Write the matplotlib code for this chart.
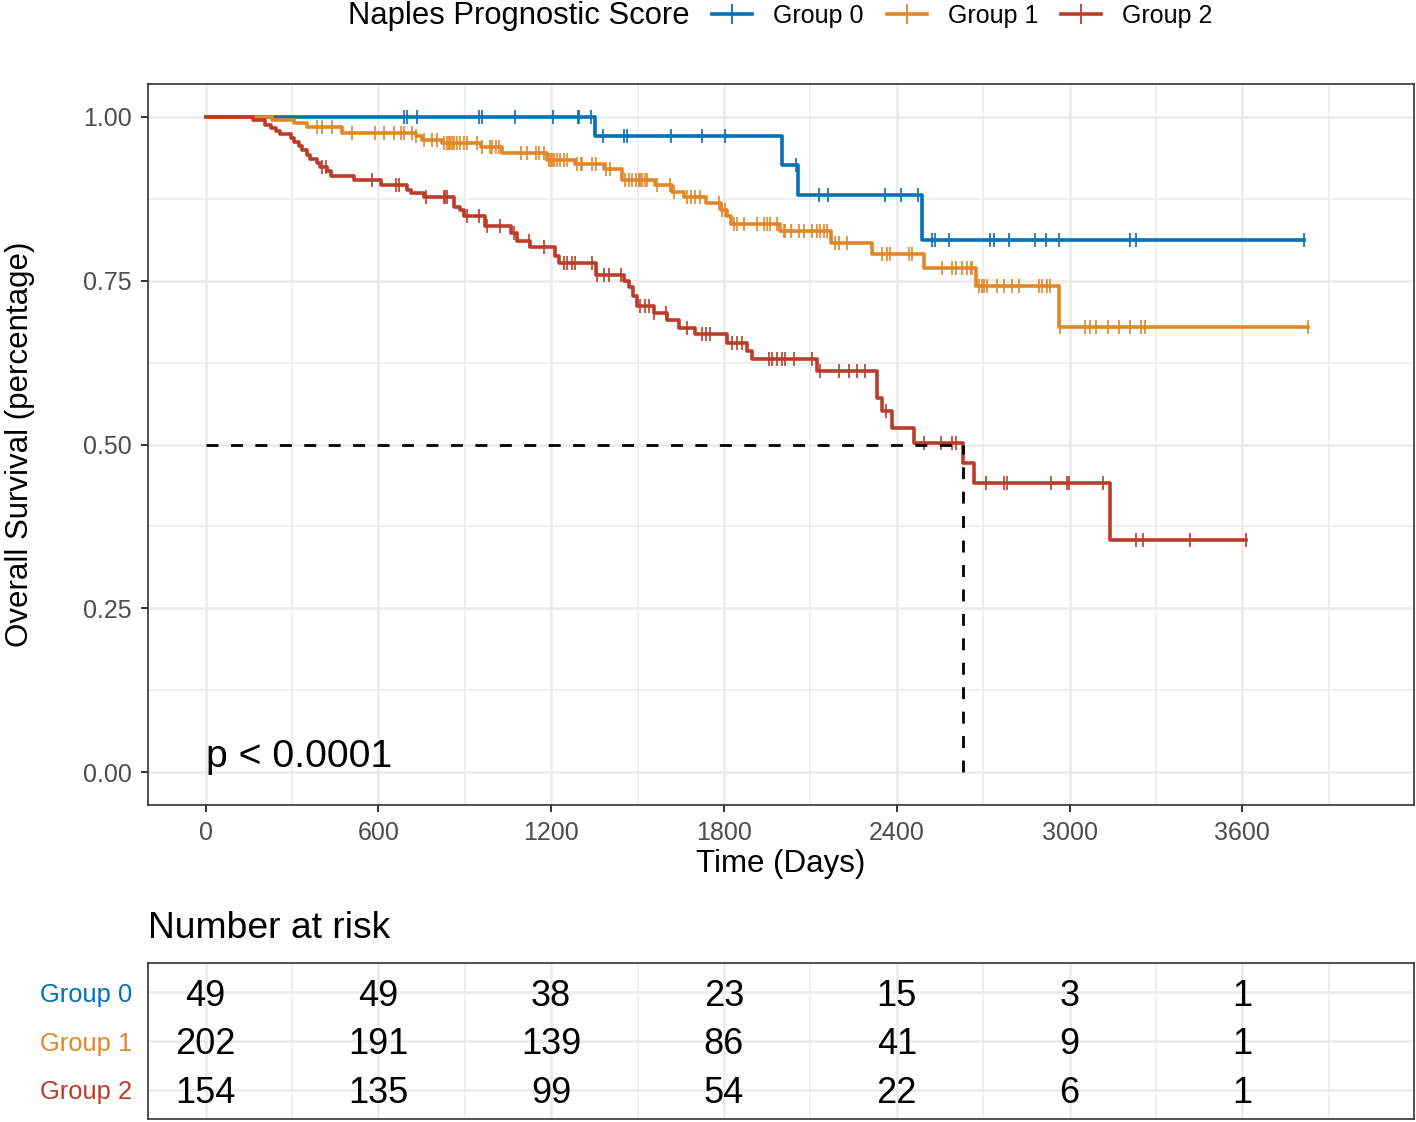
import numpy as np
import matplotlib.pyplot as plt
from matplotlib.lines import Line2D

plt.rcParams['font.family'] = ['Liberation Sans', 'DejaVu Sans']

groups = ['Group 0', 'Group 1', 'Group 2']
colours = ['#0072B5', '#E18727', '#BC3C29']

# Kaplan-Meier steps: time of each drop (days) and survival after it
g0_time = [0, 1352, 2000, 2057, 2489]
g0_surv = [1.0, 0.971, 0.927, 0.880, 0.8125]
g0_cens = [690, 700, 733, 950, 960, 1076, 1206, 1292, 1296, 1337, 1380, 1452,
           1462, 1615, 1722, 1802, 2050, 2130, 2161, 2360, 2413, 2472, 2521,
           2531, 2583, 2724, 2736, 2789, 2881, 2919, 2964, 3211, 3229, 3813]

g1_time = [0, 231, 306, 353, 474, 729, 752, 822, 955, 1030, 1186, 1284, 1383,
           1446, 1562, 1620, 1660, 1736, 1788, 1811, 1823, 1996, 2170, 2314,
           2496, 2676, 2962]
g1_surv = [1.0, 0.995, 0.990, 0.985, 0.975, 0.970, 0.965, 0.960, 0.954, 0.944,
           0.9345, 0.928, 0.920, 0.904, 0.896, 0.885, 0.877, 0.868, 0.858,
           0.848, 0.836, 0.825, 0.808, 0.791, 0.769, 0.742, 0.680]
g1_cens = [388, 405, 440, 509, 590, 619, 654, 677, 688, 717, 729, 758, 787, 804,
           827, 839, 845, 850, 856, 862, 874, 885, 897, 908, 943, 960, 989, 995,
           1007, 1018, 1094, 1117, 1146, 1157, 1175, 1192, 1198, 1203, 1209,
           1221, 1232, 1244, 1256, 1290, 1302, 1308, 1342, 1354, 1389, 1406,
           1458, 1470, 1481, 1493, 1504, 1510, 1516, 1527, 1533, 1568, 1614,
           1626, 1672, 1684, 1701, 1718, 1782, 1794, 1805, 1834, 1846, 1869,
           1915, 1938, 1950, 1961, 1985, 2008, 2013, 2031, 2060, 2077, 2106,
           2123, 2135, 2147, 2158, 2187, 2199, 2228, 2349, 2366, 2378, 2442,
           2453, 2557, 2592, 2604, 2627, 2644, 2656, 2661, 2685, 2696, 2702,
           2714, 2748, 2771, 2800, 2823, 2893, 2904, 2922, 2933, 2968, 3055,
           3072, 3090, 3134, 3172, 3210, 3247, 3263, 3827]

g2_time = [0, 165, 208, 226, 243, 260, 295, 307, 324, 336, 353, 364, 388, 399,
           422, 434, 515, 608, 700, 712, 758, 862, 885, 897, 972, 1059, 1082,
           1128, 1215, 1226, 1354, 1452, 1470, 1485, 1499, 1556, 1603, 1643,
           1701, 1811, 1881, 1898, 2123, 2330, 2349, 2384, 2459, 2630, 2667,
           3142]
g2_surv = [1.0, 0.995, 0.988, 0.983, 0.978, 0.974, 0.967, 0.961, 0.955, 0.950,
           0.942, 0.9355, 0.930, 0.924, 0.917, 0.909, 0.903, 0.896, 0.889,
           0.884, 0.8775, 0.863, 0.858, 0.848, 0.833, 0.823, 0.810, 0.802,
           0.787, 0.777, 0.759, 0.749, 0.741, 0.726, 0.711, 0.700, 0.690,
           0.678, 0.668, 0.655, 0.643, 0.630, 0.612, 0.571, 0.551, 0.525,
           0.502, 0.472, 0.442, 0.354]
g2_cens = [405, 417, 579, 660, 671, 764, 827, 833, 839, 908, 949, 978, 1024,
           1070, 1122, 1175, 1244, 1256, 1273, 1284, 1342, 1360, 1383, 1400,
           1441, 1510, 1527, 1539, 1556, 1597, 1672, 1724, 1736, 1753, 1828,
           1846, 1863, 1956, 1967, 1985, 2002, 2013, 2042, 2106, 2135, 2199,
           2233, 2262, 2291, 2361, 2494, 2555, 2592, 2606, 2710, 2774, 2783,
           2936, 2991, 2997, 3116, 3232, 3255, 3417, 3614]

median_time = 2630
p_text = 'p < 0.0001'

risk_times = [0, 600, 1200, 1800, 2400, 3000, 3600]
risk_g0 = [49, 49, 38, 23, 15, 3, 1]
risk_g1 = [202, 191, 139, 86, 41, 9, 1]
risk_g2 = [154, 135, 99, 54, 22, 6, 1]

curves = [(g0_time, g0_surv, g0_cens),
          (g1_time, g1_surv, g1_cens),
          (g2_time, g2_surv, g2_cens)]
risks = [risk_g0, risk_g1, risk_g2]

W, H = 1416, 1122
fig = plt.figure(figsize=(W / 100, H / 100), dpi=100)
ax = fig.add_axes([148 / W, 1 - 805 / H, 1266 / W, 721 / H])
axr = fig.add_axes([148 / W, 1 - 1119 / H, 1266 / W, 156 / H])

xlim = (-199.8, 4195.8)
grid_major = dict(color='#EBEBEB', lw=1.8, zorder=0)
grid_minor = dict(color='#EBEBEB', lw=1.1, zorder=0)

# survival curves
for (t, s, c), col in zip(curves, colours):
    t = np.asarray(t, float)
    s = np.asarray(s, float)
    end = max(c)
    ax.step(np.append(t, end), np.append(s, s[-1]), where='post',
            color=col, lw=2.6, zorder=3)
    idx = np.searchsorted(t, c, side='right') - 1
    ax.plot(c, s[idx], ls='none', marker='|', ms=10.5, mew=1.2,
            color=col, zorder=3)

# median line
ax.plot([0, median_time], [0.5, 0.5], color='black', lw=2.0,
        ls=(0, (4.3, 4.5)), zorder=4)
ax.plot([median_time, median_time], [0, 0.5], color='black', lw=2.0,
        ls=(0, (4.3, 4.5)), zorder=4)

ax.text(0, 0.0076, p_text, fontsize=28.3, ha='left', va='baseline', zorder=5)

ax.set_xlim(xlim)
ax.set_ylim(-0.05, 1.05)
ax.set_xticks(risk_times)
ax.set_xticks(np.arange(300, 4000, 600), minor=True)
ax.set_yticks([0, 0.25, 0.5, 0.75, 1.0])
ax.set_yticklabels(['0.00', '0.25', '0.50', '0.75', '1.00'])
ax.set_yticks([0.125, 0.375, 0.625, 0.875], minor=True)
ax.grid(which='major', **grid_major)
ax.grid(which='minor', **grid_minor)
ax.set_axisbelow(True)
ax.tick_params(which='major', length=5, width=1.4, color='#333333',
               labelsize=18, labelcolor='#4D4D4D', pad=6.5)
ax.tick_params(which='minor', length=0)
for sp in ax.spines.values():
    sp.set_color('#333333')
    sp.set_linewidth(1.2)
ax.set_xlabel('Time (Days)', fontsize=22.5, labelpad=3)
ax.set_ylabel('Overall Survival (percentage)', fontsize=22.5, labelpad=35)

# risk table
for row, (vals, col) in enumerate(zip(risks, colours), start=1):
    for t, n in zip(risk_times, vals):
        axr.text(t, row, str(n), fontsize=26, ha='center', va='center_baseline')
axr.set_xlim(xlim)
axr.set_ylim(3.6, 0.4)
axr.set_xticks(risk_times)
axr.set_xticks(np.arange(300, 4000, 600), minor=True)
axr.set_yticks([1, 2, 3])
axr.set_yticklabels(groups)
for lab, col in zip(axr.get_yticklabels(), colours):
    lab.set_color(col)
axr.tick_params(axis='y', length=0, labelsize=18.4, pad=11.5)
axr.tick_params(axis='x', which='both', length=0, labelbottom=False)
axr.grid(which='major', **grid_major)
axr.grid(which='minor', axis='x', **grid_minor)
axr.set_axisbelow(True)
for sp in axr.spines.values():
    sp.set_color('#333333')
    sp.set_linewidth(1.2)
fig.text(148 / W, 1 - 938 / H, 'Number at risk', fontsize=26.8,
         ha='left', va='baseline')

# legend on top
fig.text(690 / W, 1 - 24 / H, 'Naples Prognostic Score', fontsize=22.3,
         ha='right', va='baseline')
handles = [Line2D([0], [0], color=c, lw=2.6, marker='+', ms=15, mew=1.3)
           for c in colours]
fig.legend(handles, groups, loc='center left',
           bbox_to_anchor=(712 / W, 1 - 16 / H), ncol=3, frameon=False,
           fontsize=18, handlelength=1.6, handletextpad=0.84,
           columnspacing=0.92, borderpad=0, borderaxespad=0)

fig.savefig('out.png', dpi=100)
